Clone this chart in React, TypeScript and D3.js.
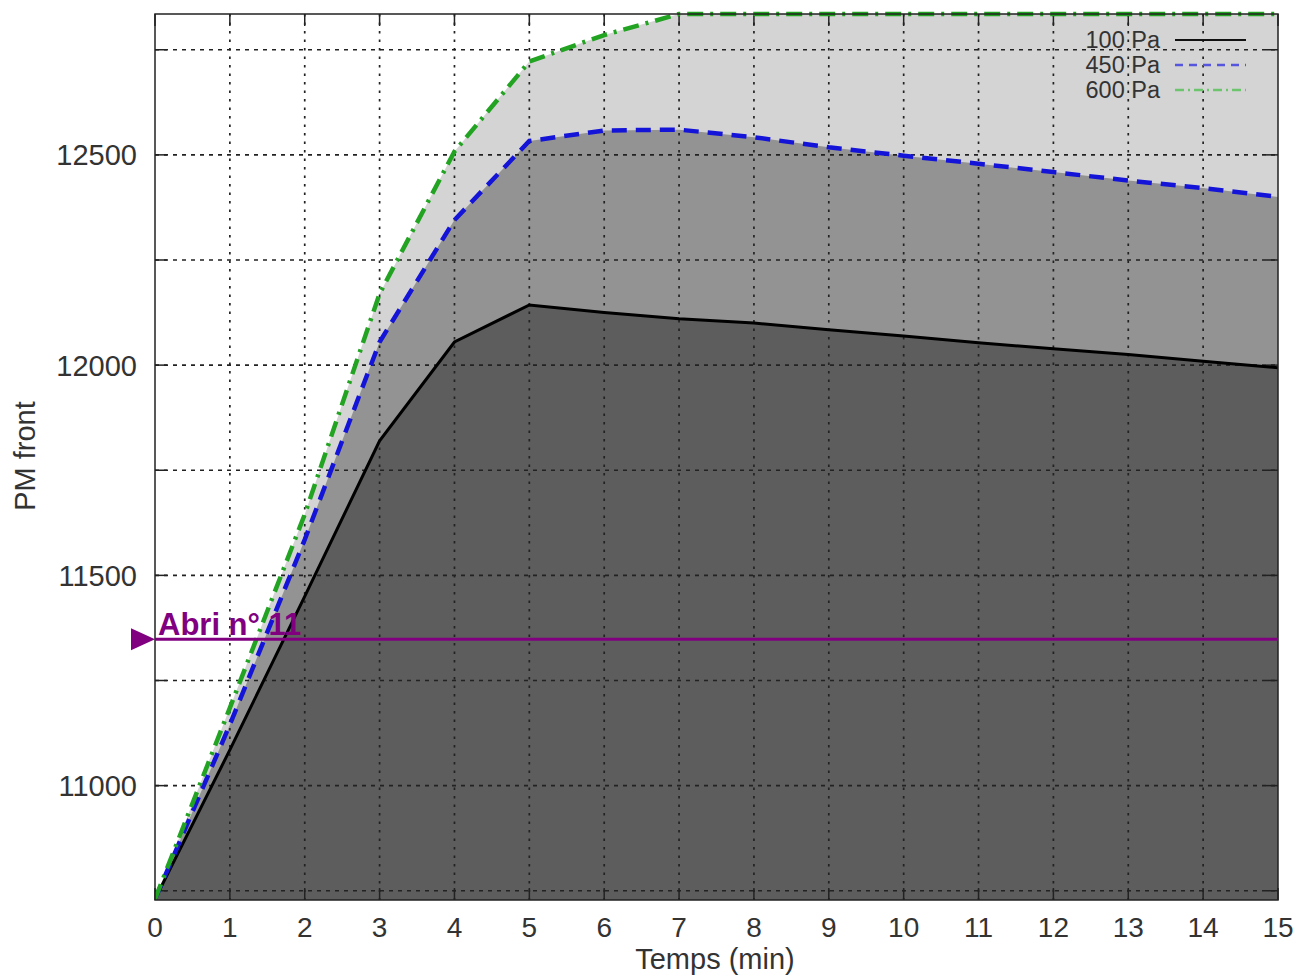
import React from "react";
import * as d3 from "d3";

const times = [0, 1, 2, 3, 4, 5, 6, 7, 8, 9, 10, 11, 12, 13, 14, 15];
const p100 = [10730, 11085, 11450, 11820, 12055, 12143, 12125, 12110, 12100, 12084, 12069, 12053, 12039, 12025, 12009, 11994];
const p450 = [10730, 11145, 11585, 12055, 12345, 12533, 12558, 12560, 12542, 12518, 12498, 12479, 12459, 12439, 12421, 12400];
const p600 = [10730, 11185, 11645, 12170, 12508, 12722, 12785, 12835, 12835, 12835, 12835, 12835, 12835, 12835, 12835, 12835];
const seriesNames = ["100 Pa", "450 Pa", "600 Pa"];
const xTicks = [0, 1, 2, 3, 4, 5, 6, 7, 8, 9, 10, 11, 12, 13, 14, 15];
const yGridTicks = [10750, 11000, 11250, 11500, 11750, 12000, 12250, 12500, 12750];
const yLabelTicks = [11000, 11500, 12000, 12500];
const abriValue = 11348;
const abriLabel = "Abri n° 11";

const W = 1309;
const H = 977;
const L = 155, R = 1278, T = 14, B = 900;
const FONT = "'Liberation Sans', Arial, Helvetica, sans-serif";

export default function App() {
  const x = d3.scaleLinear().domain([0, 15]).range([L, R]);
  const y = d3.scaleLinear().domain([10728, 12835]).range([B, T]);

  const mk = (vals: number[]) => times.map((t, i) => [t, vals[i]] as [number, number]);
  const area = d3.area<[number, number]>().x(d => x(d[0])).y0(B).y1(d => y(d[1]));
  const line = d3.line<[number, number]>().x(d => x(d[0])).y(d => y(d[1]));

  const fills = ["#d4d4d4", "#939393", "#5d5d5d"];
  const data = [p600, p450, p100];

  const legendY = [40, 65, 90];

  return (
    <svg width={W} height={H} style={{ position: "absolute", left: 0, top: 0, background: "#fff" }} fontFamily={FONT}>
      <defs>
        <clipPath id="plot">
          <rect x={L} y={T - 4} width={R - L} height={B - T + 4} />
        </clipPath>
      </defs>
      <rect x={0} y={0} width={W} height={H} fill="#fff" />
      {data.map((d, i) => (
        <path key={"a" + i} d={area(mk(d)) || ""} fill={fills[i]} />
      ))}
      {/* grid */}
      {xTicks.slice(1, -1).map(t => (
        <line key={"gx" + t} x1={x(t)} x2={x(t)} y1={T} y2={B} stroke="#222" strokeWidth={1.7} strokeDasharray="2.5,6" />
      ))}
      {yGridTicks.map(v => (
        <line key={"gy" + v} x1={L} x2={R} y1={y(v)} y2={y(v)} stroke="#222" strokeWidth={1.7} strokeDasharray="4,5" />
      ))}
      {/* ticks */}
      {xTicks.map(t => (
        <g key={"tx" + t}>
          <line x1={x(t)} x2={x(t)} y1={B} y2={B - 12} stroke="#222" strokeWidth={1.5} />
          <line x1={x(t)} x2={x(t)} y1={T} y2={T + 12} stroke="#222" strokeWidth={1.5} />
          <text x={x(t)} y={937} fontSize={28} fill="#333" textAnchor="middle">{t}</text>
        </g>
      ))}
      {yGridTicks.map(v => (
        <g key={"ty" + v}>
          <line x1={L} x2={L + 12} y1={y(v)} y2={y(v)} stroke="#222" strokeWidth={1.5} />
          <line x1={R} x2={R - 12} y1={y(v)} y2={y(v)} stroke="#222" strokeWidth={1.5} />
        </g>
      ))}
      {yLabelTicks.map(v => (
        <text key={"ly" + v} x={137} y={y(v) + 10.5} fontSize={29} fill="#333" textAnchor="end">{v}</text>
      ))}
      {/* lines */}
      <g clipPath="url(#plot)">
        <path d={line(mk(p100)) || ""} fill="none" stroke="#000" strokeWidth={3} />
        <path d={line(mk(p450)) || ""} fill="none" stroke="#1414d8" strokeWidth={4.5} strokeDasharray="15,9" />
        <path d={line(mk(p600)) || ""} fill="none" stroke="#22a322" strokeWidth={4.5} strokeDasharray="16,7,3,7" />
      </g>
      {/* border */}
      <rect x={L} y={T} width={R - L} height={B - T} fill="none" stroke="#222" strokeWidth={1.5} />
      {/* legend */}
      {seriesNames.map((n, i) => (
        <text key={"lt" + i} x={1160} y={legendY[i] + 8} fontSize={23.5} fill="#333" textAnchor="end">{n}</text>
      ))}
      <line x1={1175} x2={1246} y1={legendY[0]} y2={legendY[0]} stroke="#111" strokeWidth={2} />
      <line x1={1175} x2={1246} y1={legendY[1]} y2={legendY[1]} stroke="#5555dd" strokeWidth={2.5} strokeDasharray="8,6" />
      <line x1={1175} x2={1246} y1={legendY[2]} y2={legendY[2]} stroke="#6cc46c" strokeWidth={2.5} strokeDasharray="9,4,2,4" />
      {/* abri */}
      <line x1={L} x2={R} y1={y(abriValue)} y2={y(abriValue)} stroke="#800080" strokeWidth={3} />
      <path d={`M${131},${y(abriValue) - 11}L${155},${y(abriValue)}L${131},${y(abriValue) + 11}Z`} fill="#800080" />
      <text x={158} y={y(abriValue) - 4} fontSize={31} fontWeight="bold" fill="#800080">{abriLabel}</text>
      {/* axis titles */}
      <text x={715} y={969} fontSize={29} fill="#333" textAnchor="middle">Temps (min)</text>
      <text transform={`translate(35,456) rotate(-90)`} fontSize={29} fill="#333" textAnchor="middle">PM front</text>
    </svg>
  );
}
